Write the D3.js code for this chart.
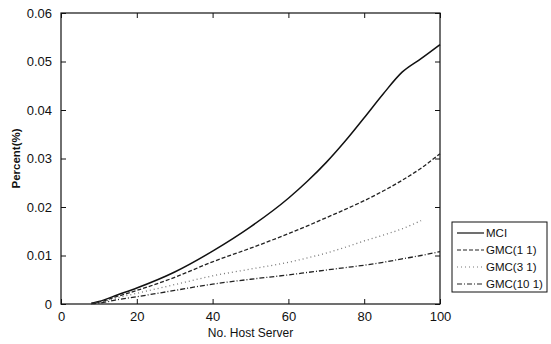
<!DOCTYPE html>
<html>
<head>
<meta charset="utf-8">
<script src="https://cdn.jsdelivr.net/npm/d3@7"></script>
<style>
body { margin:0; background:#fff; }
text { font-family: "Liberation Sans", Arial, sans-serif; fill:#111; }
</style>
</head>
<body>
<script>
var hosts   = [8, 10, 15, 20, 30, 40, 50, 60, 65, 70, 75, 80, 85, 90, 95, 100];
var mci     = [0.0001, 0.0005, 0.0019, 0.0033, 0.0066, 0.0109, 0.0159, 0.0218, 0.0253, 0.0292, 0.0336, 0.0384, 0.0433, 0.0478, 0.0506, 0.0535];
var gmc11   = [0.0001, 0.0004, 0.0016, 0.0028, 0.0055, 0.0087, 0.0115, 0.0145, 0.0161, 0.0178, 0.0195, 0.0213, 0.0233, 0.0255, 0.0280, 0.0310];
var gmc31   = [0.0001, 0.0003, 0.0013, 0.0022, 0.0040, 0.0058, 0.0072, 0.0086, 0.0095, 0.0105, 0.0117, 0.0130, 0.0142, 0.0155, 0.0172];
var gmc101  = [0.0001, 0.0002, 0.0009, 0.0015, 0.0028, 0.0041, 0.0051, 0.0060, 0.0065, 0.0070, 0.0075, 0.0080, 0.0086, 0.0093, 0.0100, 0.0108];
var seriesNames = ["MCI", "GMC(1 1)", "GMC(3 1)", "GMC(10 1)"];
var xTicks = [0, 20, 40, 60, 80, 100];
var yTicks = [0, 0.01, 0.02, 0.03, 0.04, 0.05, 0.06];

var dashes = ["none", "4,2", "1,3", "5,2,1,2"];
var colors = ["#111", "#222", "#777", "#222"];

var svg = d3.select("body")
    .append("svg")
    .attr("width", 551)
    .attr("height", 344);

var x = d3.scaleLinear().domain([0, 100]).range([61, 440]);
var y = d3.scaleLinear().domain([0, 0.06]).range([304, 13]);

// axes, matlab style box with ticks inside
var g = svg.append("g");
g.append("rect")
	.attr("x", x(0)).attr("y", y(0.06))
	.attr("width", x(100) - x(0)).attr("height", y(0) - y(0.06))
	.attr("fill", "none").attr("stroke", "#111").attr("stroke-width", 1.2);

var xb = g.append("g").attr("transform", "translate(0," + y(0) + ")")
	.call(d3.axisBottom(x).tickValues(xTicks).tickSizeInner(-5).tickSizeOuter(0).tickPadding(8));
var xt = g.append("g").attr("transform", "translate(0," + y(0.06) + ")")
	.call(d3.axisTop(x).tickValues(xTicks).tickSizeInner(-5).tickSizeOuter(0).tickFormat(""));
var yl = g.append("g").attr("transform", "translate(" + x(0) + ",0)")
	.call(d3.axisLeft(y).tickValues(yTicks).tickSizeInner(-5).tickSizeOuter(0).tickPadding(9)
	.tickFormat(function(d){ return d === 0 ? "0" : d3.format(".2f")(d); }));
var yr = g.append("g").attr("transform", "translate(" + x(100) + ",0)")
	.call(d3.axisRight(y).tickValues(yTicks).tickSizeInner(-5).tickSizeOuter(0).tickFormat(""));

g.selectAll(".domain").remove();
g.selectAll(".tick line").attr("stroke", "#111");
g.selectAll(".tick text").attr("font-size", 13).attr("fill", "#111");

svg.append("text")
	.attr("x", x(50)).attr("y", 337)
	.attr("text-anchor", "middle").attr("font-size", 12)
	.text("No. Host Server");

svg.append("text")
	.attr("transform", "translate(20," + y(0.03) + ") rotate(-90)")
	.attr("text-anchor", "middle").attr("font-size", 11.5).attr("font-weight", "bold")
	.text("Percent(%)");

// lines
var series = [mci, gmc11, gmc31, gmc101];
var line = d3.line()
	.curve(d3.curveMonotoneX)
	.x(function(d){ return x(d[0]); })
	.y(function(d){ return y(d[1]); });

series.forEach(function(vals, i){
	var pts = vals.map(function(v, j){ return [hosts[j], v]; });
	svg.append("path")
		.attr("d", line(pts))
		.attr("fill", "none")
		.attr("stroke", colors[i])
		.attr("stroke-width", i == 0 ? 1.5 : 1.3)
		.attr("stroke-dasharray", dashes[i]);
});

// legend
var lg = svg.append("g").attr("transform", translate(452, 222));
lg.append("rect")
	.attr("width", 95).attr("height", 70)
	.attr("fill", "#fff").attr("stroke", "#111");
seriesNames.forEach(function(name, i){
	var yy = 11 + i * 17;
	lg.append("line")
		.attr("x1", 5).attr("x2", 32).attr("y1", yy).attr("y2", yy)
		.attr("stroke", colors[i]).attr("stroke-width", 1.2)
		.attr("stroke-dasharray", dashes[i]);
	lg.append("text")
		.attr("x", 34).attr("y", yy + 4)
		.attr("font-size", 11.5)
		.text(name);
});

function translate(x,y){
	return "translate("+x+","+y+")";
}
</script>
</body>
</html>
